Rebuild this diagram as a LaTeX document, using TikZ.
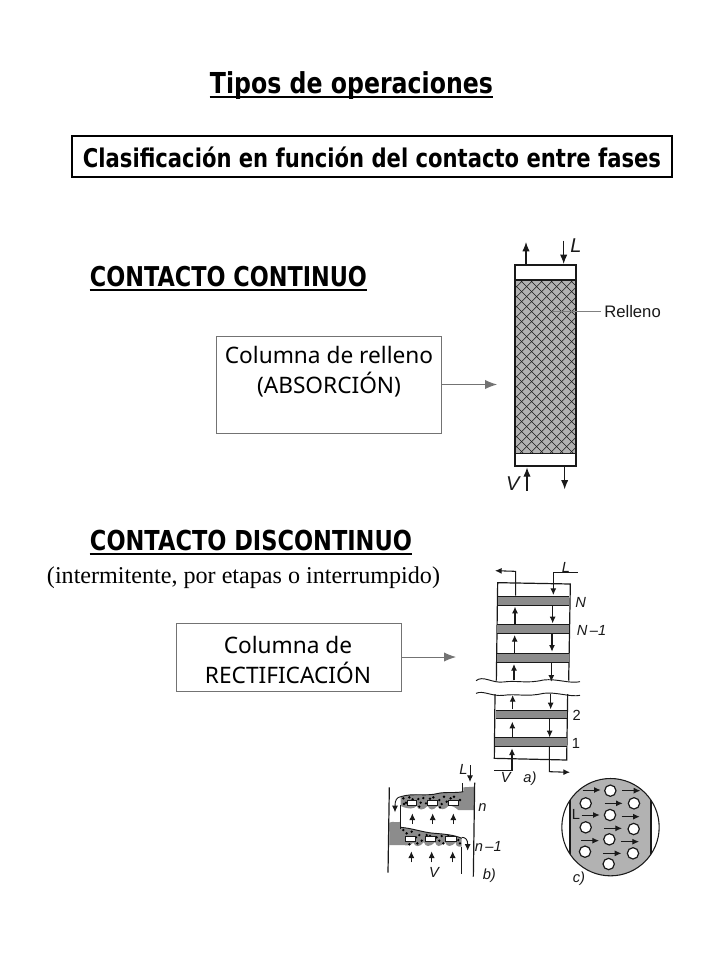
\documentclass[tikz,border=0pt]{standalone}
\usepackage{fontspec}
\setmainfont{Noto Sans}
\newfontfamily\headface{DejaVu Sans}
\newfontfamily\serifface{Liberation Serif}
\newfontfamily\figface{Liberation Sans}
\usetikzlibrary{arrows.meta}
\definecolor{boxline}{gray}{0.45}
\definecolor{packgray}{gray}{0.7}
\definecolor{traygray}{gray}{0.55}
\definecolor{inkblack}{gray}{0.1}
\newcommand{\fitw}[2]{\resizebox{\dimexpr #1pt*3/4\relax}{!}{#2}}
\newcommand{\tallw}[2]{\scalebox{1}[1.22]{\fitw{#1}{#2}}}
\tikzset{
  heading/.style={inner sep=0pt,font=\headface\bfseries},
  plainbox/.style={draw=boxline,line width=.6pt,fill=white,align=center,inner sep=0pt},
  boxtext/.style={inner sep=0pt,align=center,font=\fontsize{17pt}{22.5pt}\selectfont},
  titlebox/.style={draw=black,line width=.8pt,inner sep=0pt},
  pointer/.style={draw=boxline,line width=.7pt,-{Latex[length=9pt,width=7pt]}},
  fig/.style={draw=inkblack,line width=.9pt},
  figarrow/.style={fig,-{Latex[length=7pt,width=5.5pt]}},
  smallarrow/.style={fig,line width=.7pt,-{Latex[length=5pt,width=4.5pt]}},
  figlabel/.style={inner sep=0pt,text=inkblack,font=\figface\fontsize{11pt}{12pt}\selectfont},
  figital/.style={figlabel,font=\figface\itshape\fontsize{11pt}{12pt}\selectfont},
  zoomed/.style={x=.25pt,y=-.25pt},
}
\begin{document}
\begin{tikzpicture}[x=.75pt,y=-.75pt]
\useasboundingbox (0,0) rectangle (720,960);
\fill[white] (0,0) rectangle (720,960);

% headings
\node[heading] (title) at (351.5,86) {\tallw{283}{Tipos de operaciones}};
\draw[line width=1.6pt] ([yshift=-2.6pt]title.base west) -- ([yshift=-2.6pt]title.base east);
\node[titlebox,minimum width=450pt,minimum height=30.75pt] (classbox) at (372,156.5) {};
\node[heading] (classtext) at (372,157) {\tallw{578}{Clasificación en función del contacto entre fases}};

\node[heading] (cont) at (228.5,277) {\tallw{277}{CONTACTO CONTINUO}};
\draw[line width=1.3pt] ([yshift=-2.4pt]cont.base west) -- ([yshift=-2.4pt]cont.base east);
\node[heading] (disc) at (251,541) {\tallw{322}{CONTACTO DISCONTINUO}};
\draw[line width=1.3pt] ([yshift=-2.4pt]disc.base west) -- ([yshift=-2.4pt]disc.base east);
\node[inner sep=0pt,font=\serifface] (inter) at (243.5,578) {\fitw{393}{(intermitente, por etapas o interrumpido)}};

% boxes and pointers
\node[plainbox,minimum width=168.75pt,minimum height=72.75pt] (bone) at (328.5,384.5) {};
\node[boxtext] (bonetext) at (329,372) {Columna de relleno\\(ABSORCIÓN)};
\coordinate (coltarget) at (497,384.5);
\draw[pointer] (bone.east) -- (coltarget);
\node[plainbox,minimum width=168.75pt,minimum height=51pt] (btwo) at (288.5,657) {};
\node[boxtext] (btwotext) at (288,660) {Columna de\\RECTIFICACIÓN};
\coordinate (rectarget) at (456,657);
\draw[pointer] (btwo.east) -- (rectarget);

% packed column
\begin{scope}[shift={(480,220)},zoomed]
  \fill[packgray] (106,180) rectangle (287,700);
  \begin{scope}
    \clip (106,180) rectangle (287,700);
    \foreach \k in {-600,-570,...,800}{
      \draw[inkblack,line width=.4pt] (\k,180) -- (\k+520,700);
      \draw[inkblack,line width=.4pt] (\k+520,180) -- (\k,700);
    }
  \end{scope}
  \draw[fig,line width=1.3pt] (105,136) rectangle (288,737);
  \draw[fig] (106,180) -- (287,180);
  \draw[fig] (106,700) -- (287,700);
  \draw[figarrow] (138,136) -- (138,66);
  \draw[figarrow] (251,62) -- (251,132);
  \draw[figarrow] (141,812) -- (141,742);
  \draw[figarrow] (254,737) -- (254,808);
  \draw[draw=gray,line width=.8pt] (215,275) -- (362,275);
  \node[figlabel,anchor=west,font=\figface\fontsize{12.5pt}{14pt}\selectfont] (rel) at (372,275) {Relleno};
  \node[figital,font=\figface\itshape\fontsize{15pt}{16pt}\selectfont] (lone) at (288,76) {L};
  \node[figital,font=\figface\itshape\fontsize{15pt}{16pt}\selectfont] (vone) at (98,792) {V};
\end{scope}

% tray column a)
\begin{scope}[shift={(450,550)},zoomed]
  \draw[fig] (139,392) -- (143,98) -- (361,102) -- (356,392);
  \draw[fig] (135,432) -- (133,625) -- (350,630) -- (353,432);
  \foreach \xa/\xb/\ya/\yb in {143/358/138/165,142/357/224/250,141/356/310/336,137/352/480/505,135/350/563/590}{
    \fill[traygray] (\xa,\ya) rectangle (\xb,\yb);
    \draw[fig,line width=.7pt] (\xa,\ya) -- (\xb,\ya) (\xa,\yb) -- (\xb,\yb);
  }
  \draw[fig,line width=.7pt] (78,392) .. controls (100,375) and (125,400) .. (160,396) .. controls (200,390) and (230,402) .. (280,390) .. controls (320,385) and (360,402) .. (390,395);
  \draw[fig,line width=.7pt] (78,430) .. controls (100,420) and (125,440) .. (160,436) .. controls (200,430) and (230,442) .. (280,430) .. controls (320,425) and (360,442) .. (390,436);
  % up flow
  \draw[smallarrow,line width=.8pt] (197,137) -- (197,64) -- (135,62);
  \foreach \x/\ya/\yb in {195/224/170,194/310/255,192/390/342,188/478/435,187/562/515}{
    \draw[smallarrow,line width=.8pt] (\x,\ya) -- (\x,\yb);
  }
  \draw[smallarrow,line width=.8pt] (133,662) -- (186,662) -- (186,595);
  % down flow
  \draw[smallarrow,line width=.8pt] (383,67) -- (310,67) -- (310,135);
  \foreach \x/\ya/\yb in {308/165/220,306/250/305,304/337/395,302/432/478,299/505/562}{
    \draw[smallarrow,line width=.8pt] (\x,\ya) -- (\x,\yb);
  }
  \draw[smallarrow,line width=.8pt] (298,590) -- (298,665) -- (360,667);
  \node[figital] (la) at (348,52) {L};
  \node[figital] (nn) at (392,156) {N};
  \node[figital,anchor=west] (nm) at (380,242) {N\,–1};
  \node[figlabel] (two) at (380,495) {2};
  \node[figlabel] (one) at (378,580) {1};
  \node[figital] (va) at (167,682) {V};
  \node[figital] (aa) at (240,685) {a)};
\end{scope}

% bubble tray b)
\begin{scope}[shift={(380,750)},zoomed]
  % upper tray liquid
  \fill[traygray] (62,140) .. controls (100,128) and (140,140) .. (175,130) .. controls (200,125) and (225,130) .. (250,125)
     -- (250,112) -- (282,110) -- (282,180) -- (235,180)
     .. controls (225,172) and (215,165) .. (205,168) .. controls (195,180) and (180,182) .. (172,168)
     .. controls (160,182) and (150,182) .. (143,168) .. controls (130,182) and (115,182) .. (110,168)
     .. controls (100,178) and (85,178) .. (62,168) -- cycle;
  % lower tray liquid
  \fill[traygray] (62,232) .. controls (100,235) and (130,248) .. (165,250) .. controls (190,252) and (225,255) .. (245,265)
     -- (245,290) .. controls (232,292) and (225,285) .. (228,275)
     .. controls (215,292) and (200,292) .. (195,276) .. controls (180,292) and (170,292) .. (165,276)
     .. controls (150,292) and (135,292) .. (132,276) .. controls (120,292) and (105,292) .. (100,278)
     .. controls (90,290) and (75,285) .. (62,285) -- (28,285) -- (28,218) .. controls (40,212) and (50,220) .. (62,215) -- cycle;
  % dots
  \foreach \p in {(70,145),(78,158),(88,142),(98,148),(115,147),(122,158),(130,144),(138,160),(150,146),(160,142),(178,150),(185,162),(192,140),(200,155),(212,145),(222,140),(240,150),(72,162),(118,170),(180,172),(70,240),(80,250),(95,245),(108,262),(118,255),(125,272),(112,280),(140,255),(150,258),(170,262),(178,272),(185,258),(190,280),(205,258),(235,270),(240,280),(88,283)}{
    \fill[black] \p circle (4);
  }
  % caps
  \foreach \xa/\ya/\xb/\yb in {82/152/110/165,143/152/172/165,205/152/235/165,75/260/105/273,135/260/165/273,197/260/230/273}{
    \draw[fig,line width=.5pt,fill=white] (\xa,\ya) rectangle (\xb,\yb);
  }
  % walls
  \draw[fig] (28,112) -- (24,368);
  \draw[fig] (284,98) -- (280,380);
  \draw[fig] (62,165) -- (62,236);
  \draw[fig] (248,100) -- (248,125);
  \draw[fig,line width=.7pt] (243,290) -- (243,372);
  \draw[fig,line width=.7pt] (62,140) .. controls (100,128) and (140,140) .. (175,130) .. controls (200,125) and (225,130) .. (250,125);
  \draw[fig,line width=.7pt] (62,232) .. controls (100,235) and (130,248) .. (165,250) .. controls (190,252) and (225,255) .. (245,265);
  \draw[smallarrow] (62,140) .. controls (50,142) and (45,150) .. (45,187);
  \draw[smallarrow] (245,262) .. controls (258,262) and (263,270) .. (263,302);
  \draw[smallarrow] (270,45) -- (270,96);
  \foreach \x in {97,158,220}{ \draw[smallarrow] (\x,222) -- (\x,190); }
  \foreach \x in {94,155,218}{ \draw[smallarrow] (\x,337) -- (\x,304); }
  \node[figital] (lb) at (250,58) {L};
  \node[figital] (nb) at (307,172) {n};
  \node[figital] (nbm) at (325,290) {n\,–1};
  \node[figital] (vb) at (162,368) {V};
  \node[figital] (bb) at (328,378) {b)};
  % plan view c)
  \begin{scope}
    \clip (691.5,231.5) circle (146);
    \fill[packgray] (570,80) rectangle (813,385);
    \draw[fig] (570,80) -- (570,385) (813,80) -- (813,385);
  \end{scope}
  \draw[fig,line width=.8pt] (691.5,231.5) circle (146);
  \foreach \x/\y in {691/122,617/160,762/160,690/195,617/232,761/237,688/268,615/305,759/310,686/342}{
    \draw[fig,fill=white] (\x,\y) circle (17);
  }
  \foreach \xa/\y in {608/120,727/122,674/160,605/195,725/200,672/235,603/272,723/275,670/310}{
    \draw[smallarrow] (\xa,\y) -- ++(54,0);
  }
  \node[figlabel] (lc) at (588,192) {L};
  \node[figital] (cc) at (597,385) {c)};
\end{scope}
\end{tikzpicture}
\end{document}
